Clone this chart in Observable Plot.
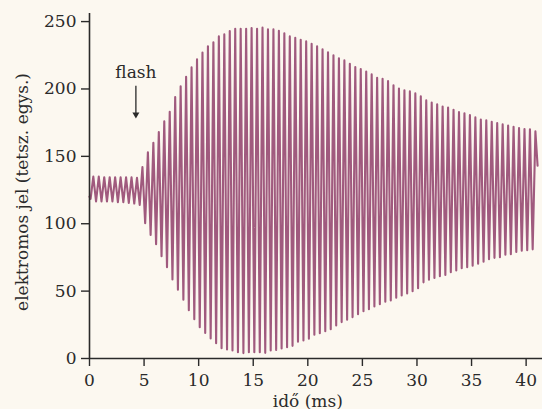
<!DOCTYPE html>
<html><head><meta charset="utf-8">
<script src="https://cdn.jsdelivr.net/npm/d3@7"></script>
<script src="https://cdn.jsdelivr.net/npm/@observablehq/plot@0.6"></script>
<style>body{margin:0;background:#fcf8f0}</style>
</head><body><div id="chart"></div>
<script>
// Signal: alternating trough / peak values, half a period (0.25 ms) apart
const startPoint = {t: 0, v: 120};
const firstTroughTime = 0.1;   // ms
const halfPeriod = 0.25;       // ms
const endPoint = {t: 41.05, v: 143};

const troughs = [
  // before flash
  118.5, 116.5, 116.5, 116.5, 116.5, 116, 116, 115.5, 115, 114,
  // after flash
  100.4, 91.7, 84.8, 75.9, 67.8, 58.6, 51, 43.6, 35.9, 29.2,
  23.2, 19, 14.8, 11.4, 7.6, 6.7, 5.9, 4.7, 4.0,
  4.7, 4.7, 4.7, 4.2, 5.9, 6.4, 7.4, 8.4, 9.4, 12.4,
  13.4, 14.6, 17.6, 18.8, 20.3, 21.8, 24.5, 27, 28.7, 30.7,
  32.9, 35.1, 36.6, 38.6, 40.3, 42.1, 43.1, 45.1, 46.8, 48.3,
  50, 52.2, 56.5,
  58.5, 59.8, 61, 62, 64, 65.3, 67, 67.8, 68.8, 70.3,
  71.8, 73.7, 74.7, 75.2, 77, 77.4, 79, 80, 80.4, 81
];
const peaks = [
  // before flash
  135, 135, 134.5, 134.5, 134.5, 134.5, 134.5, 134.5, 134,
  // after flash
  142, 153, 160, 168, 176, 183, 194, 202, 209, 216,
  222, 227, 231.6, 234.6, 239, 240.5, 243, 244.7, 244.7, 244.7,
  245.2, 244.7, 245.5, 244.2, 244.2, 243.2, 241.3, 239, 238, 236.5,
  235.3, 233.6, 231.6, 229.4, 227.2, 225, 222.7, 221.2, 218.7, 216.3,
  214.8, 213, 210.8, 208.3, 207.6, 205.8, 202.7, 200.4, 199, 198.2,
  196.7, 194.5, 191.5, 190,
  188.6, 187, 186.3, 184.6, 182.8, 182, 180.6, 178.9, 177.4, 176.7,
  175.7, 174.7, 173.7, 172.9, 172, 171, 170.2, 170, 168.5
];

const xTicks = [0, 5, 10, 15, 20, 25, 30, 35, 40];
const yTicks = [0, 50, 100, 150, 200, 250];
const xLabel = "idő (ms)";
const yLabel = "elektromos jel (tetsz. egys.)";
const xLabelAt = 20;

const flashLabel = "flash";
const flashTime = 4.25;
const flashLabelY = 212.5;
const arrowFrom = 202;
const arrowHeadY = 181;

// build the polyline table
const signal = [startPoint];
for (let i = 0; i < troughs.length; i++) {
  signal.push({t: firstTroughTime + 2 * i * halfPeriod, v: troughs[i]});
  if (i < peaks.length) signal.push({t: firstTroughTime + (2 * i + 1) * halfPeriod, v: peaks[i]});
}
signal.push(endPoint);

const ink = "#2a2a2a";
const lineColor = "#a05a7e";

const chart = Plot.plot({
  width: 542,
  height: 409,
  marginLeft: 89,
  marginRight: 0,
  marginTop: 13,
  marginBottom: 51,
  style: {background: "#fcf8f0", fontFamily: "'DejaVu Serif', serif", fontSize: "17px", color: ink, overflow: "visible"},
  x: {domain: [0, 41.5]},
  y: {domain: [0, 256]},
  marks: [
    Plot.axisY(yTicks, {tickSize: 8, tickPadding: 5, label: null, stroke: ink, strokeWidth: 1.4, fill: ink, fontSize: 17}),
    Plot.axisX(xTicks, {tickSize: 8, tickPadding: 7, label: null, stroke: ink, strokeWidth: 1.4, fill: ink, fontSize: 17}),
    Plot.line(signal, {x: "t", y: "v", stroke: lineColor, strokeWidth: 2.1, curve: "linear"}),
    Plot.ruleX([0], {stroke: ink, strokeWidth: 1.6}),
    Plot.ruleY([0], {stroke: ink, strokeWidth: 1.6}),
    Plot.ruleX([flashTime], {y1: arrowFrom, y2: arrowHeadY, stroke: ink, strokeWidth: 1.3}),
    Plot.dot([flashTime], {x: d => d, y: () => arrowHeadY, symbol: "triangle", rotate: 180, r: 2.6, fill: ink, stroke: "none"}),
    Plot.text([flashLabel], {x: () => flashTime, y: () => flashLabelY, fill: ink, fontSize: 17}),
    Plot.text([xLabel], {x: () => xLabelAt, frameAnchor: "bottom", lineAnchor: "middle", textAnchor: "middle", dy: 43.5, fill: ink, fontSize: 17}),
    Plot.text([yLabel], {frameAnchor: "left", textAnchor: "middle", lineAnchor: "middle", dx: -67, dy: 6, rotate: -90, fill: ink, fontSize: 17})
  ]
});
document.getElementById("chart").append(chart);
</script></body></html>
